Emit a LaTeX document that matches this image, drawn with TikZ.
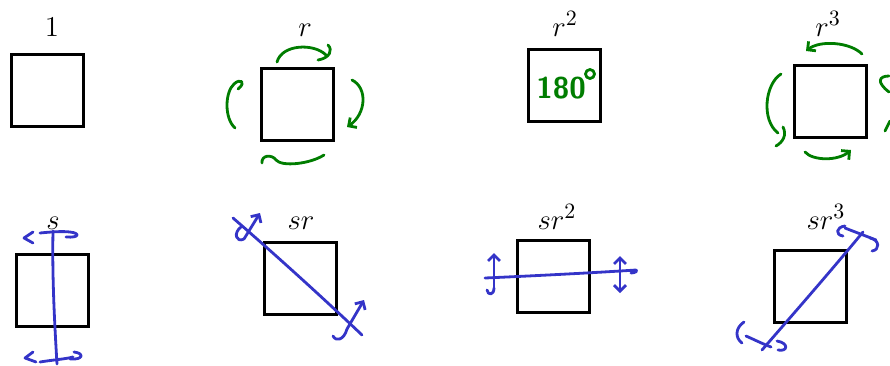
\documentclass[tikz,border=0pt]{standalone}
\usepackage{amsmath}
\usetikzlibrary{arrows.meta}
\definecolor{penGreen}{RGB}{0,125,0}
\definecolor{penBlue}{RGB}{52,52,200}
\tikzset{
  sq/.style={draw, line width=1.5pt, minimum size=36pt, inner sep=0pt},
  lbl/.style={anchor=base, font=\fontsize{15}{18}\selectfont},
  grn/.style={penGreen, line width=1.4pt, line cap=round, line join=round},
  blu/.style={penBlue, line width=1.4pt, line cap=round, line join=round},
  barb/.style={-{Straight Barb[length=3pt,width=6pt]}},
}

\begin{document}
\begin{tikzpicture}[x=0.5pt,y=-0.5pt]
  \useasboundingbox (0,0) rectangle (890,365);

  % Top row: rotations
  \node[sq] (e)   at (47.5,90)  {};
  \node[sq] (r)   at (297.5,104) {};
  \node[sq] (rr)  at (564,85.5) {};
  \node[sq] (rrr) at (830,101)  {};
  \node[lbl] (le)   at (52,36)  {$1$};
  \node[lbl] (lr)   at (305,36) {$r$};
  \node[lbl] (lrr)  at (565,36) {$r^2$};
  \node[lbl] (lrrr) at (828,36) {$r^3$};

  % Bottom row: reflections
  \node[sq] (s)    at (52,290)    {};
  \node[sq] (sr)   at (300,278.5) {};
  \node[sq] (srr)  at (553.5,276.5) {};
  \node[sq] (srrr) at (810.5,286.5) {};
  \node[lbl] (ls)    at (53,229)  {$s$};
  \node[lbl] (lsr)   at (301,229) {$sr$};
  \node[lbl] (lsrr)  at (557,229) {$sr^2$};
  \node[lbl] (lsrrr) at (826,229) {$sr^3$};

  % r: clockwise arrows
  \draw[grn] (277,62) .. controls (282,44) and (314,43) .. (326,55);
  \draw[grn] (318,60) .. controls (330,58) and (333,50) .. (328,45);
  \draw[grn,barb] (352,80) .. controls (368,88) and (366,114) .. (347,127);
  \draw[grn] (262,163) .. controls (261,155) and (272,154) .. (276,160)
    .. controls (282,167) and (310,164) .. (324,155);
  \draw[grn] (235,128) .. controls (224,118) and (225,92) .. (234,84)
    .. controls (240,78) and (247,82) .. (238,89);

  % r^2: half turn
  \node[penGreen, font=\sffamily\bfseries\fontsize{15}{18}\selectfont] (deg) at (561,88) {180};
  \draw[grn] (590,74) circle (4.5);

  % r^3: counter-clockwise arrows
  \draw[grn,barb] (862,54) .. controls (850,42) and (820,40) .. (806,51);
  \draw[grn] (781,74) .. controls (765,84) and (761,120) .. (778,133);
  \draw[grn] (783,127) .. controls (787,135) and (783,142) .. (776,146);
  \draw[grn,barb] (805,152) .. controls (813,161) and (838,161) .. (851,150);
  \draw[grn] (889,76) .. controls (879,76) and (876,82) .. (889,92);
  \draw[grn] (885,131) -- (890,121);

  % s: vertical axis
  \draw[blu] (53,231) .. controls (52,280) and (55,330) .. (57,364);
  \draw[blu] (33,232) -- (24,238) -- (33,243);
  \draw[blu] (40,233) .. controls (50,232) and (62,231) .. (70,232)
    .. controls (80,233) and (80,238) .. (66,237);
  \draw[blu] (33,352) -- (25,358) -- (36,362);
  \draw[blu] (40,362) .. controls (52,360) and (66,359) .. (73,357);
  \draw[blu] (74,352) .. controls (84,353) and (84,360) .. (70,359);

  % sr: diagonal axis
  \draw[blu] (233,218) .. controls (270,250) and (320,295) .. (362,335);
  \draw[blu,barb] (244,239) -- (260,213);
  \draw[blu] (244,239) .. controls (236,243) and (233,233) .. (241,227);
  \draw[blu,barb] (347,329) -- (364,300);
  \draw[blu] (347,329) .. controls (344,340) and (336,342) .. (333,336);

  % sr^2: horizontal axis
  \draw[blu] (485,278) .. controls (530,276) and (590,273) .. (636,270)
    .. controls (638,271) and (635,273) .. (631,273);
  \draw[blu,barb] (494,288) -- (494,253);
  \draw[blu] (494,288) .. controls (494,295) and (488,296) .. (487,290);
  \draw[blu,{Straight Barb[length=3pt,width=6pt]}-{Straight Barb[length=3pt,width=6pt]}] (620,256) -- (620,293);

  % sr^3: anti-diagonal axis
  \draw[blu] (762,350) .. controls (795,312) and (830,272) .. (863,232);
  \draw[blu] (845,228) .. controls (855,232) and (866,236) .. (876,240);
  \draw[blu] (845,226) .. controls (836,227) and (835,235) .. (843,236);
  \draw[blu] (870,238) .. controls (880,240) and (880,250) .. (872,251);
  \draw[blu] (746,336) .. controls (755,340) and (763,344) .. (771,347);
  \draw[blu] (744,322) .. controls (735,328) and (735,338) .. (742,343);
  \draw[blu] (777,341) .. controls (789,343) and (788,352) .. (778,350);
\end{tikzpicture}
\end{document}
